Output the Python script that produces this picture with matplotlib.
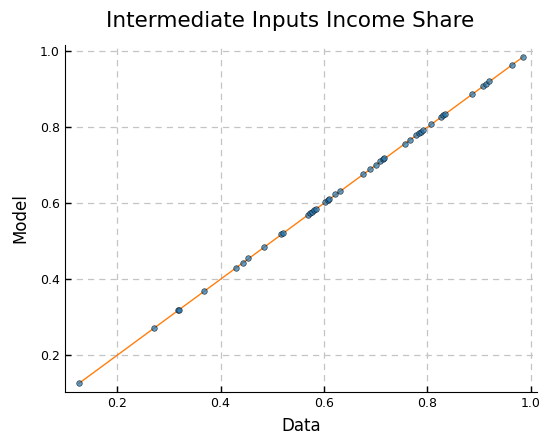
import matplotlib
matplotlib.use('Agg')
import matplotlib.pyplot as plt
import numpy as np

# data (data share vs model share)
data_share = [0.126, 0.271, 0.317, 0.319, 0.368, 0.429, 0.443, 0.454, 0.484,
              0.517, 0.521, 0.569, 0.573, 0.577, 0.580, 0.584, 0.602, 0.607,
              0.610, 0.622, 0.632, 0.675, 0.690, 0.700, 0.709, 0.715, 0.717,
              0.756, 0.766, 0.779, 0.784, 0.787, 0.791, 0.807, 0.827, 0.831,
              0.835, 0.887, 0.908, 0.913, 0.920, 0.963, 0.986]
model_share = [0.127, 0.272, 0.318, 0.320, 0.369, 0.430, 0.444, 0.455, 0.485,
               0.518, 0.522, 0.570, 0.574, 0.578, 0.581, 0.585, 0.603, 0.608,
               0.611, 0.623, 0.633, 0.676, 0.690, 0.700, 0.710, 0.716, 0.718,
               0.757, 0.767, 0.780, 0.785, 0.788, 0.792, 0.808, 0.828, 0.832,
               0.836, 0.888, 0.909, 0.914, 0.921, 0.964, 0.986]
ticks = [0.2, 0.4, 0.6, 0.8, 1.0]

fig = plt.figure(figsize=(5.45, 4.36), dpi=100)
ax = fig.add_axes([0.119, 0.101, 0.866, 0.796])

lo, hi = min(data_share), max(data_share)
ax.plot([lo, hi], [lo, hi], color='#ff7f0e', linewidth=1, zorder=2)
ax.scatter(data_share, model_share, s=16, color='#1f77b4', alpha=0.7,
           edgecolors='black', linewidths=0.5, zorder=3)

ax.set_xlim(0.0988, 1.0118)
ax.set_ylim(0.1034, 1.0166)
ax.set_xticks(ticks)
ax.set_yticks(ticks)
ax.set_xticklabels(['0.2', '0.4', '0.6', '0.8', '1.0'])
ax.set_yticklabels(['0.2', '0.4', '0.6', '0.8', '1.0'])

ax.grid(True, linestyle=(0, (5, 4)), color='#c4c4c4', linewidth=0.9)
ax.set_axisbelow(True)
ax.spines['top'].set_visible(False)
ax.spines['right'].set_visible(False)
ax.tick_params(axis='both', direction='in', length=4, width=1, labelsize=9)

ax.set_xlabel('Data', fontsize=12, labelpad=5)
ax.set_ylabel('Model', fontsize=12, labelpad=8)
fig.text(290 / 545, 1 - 21 / 436, 'Intermediate Inputs Income Share',
         fontsize=15.5, ha='center', va='center')

plt.savefig('out.png', dpi=100)
